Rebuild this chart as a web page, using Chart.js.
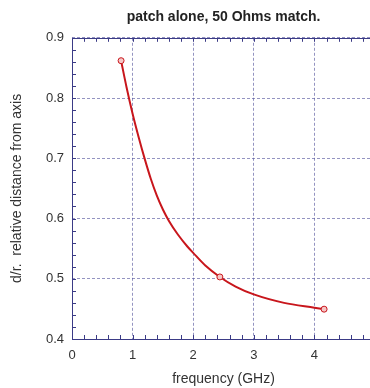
<!DOCTYPE html>
<html>
<head>
<meta charset="utf-8">
<script src="https://cdn.jsdelivr.net/npm/chart.js@4.4.0/dist/chart.umd.min.js"></script>
<style>
    html, body { margin: 0; padding: 0; background: #fff; overflow: hidden; }
    #wrap { width: 384px; height: 388px; }
</style>
</head>
<body>
<div id="wrap"><canvas id="myChart" width="384" height="388"></canvas></div>
<script>
// fitted curve, d/r against frequency
const curveFreq = [0.81, 0.9, 1.0, 1.1, 1.2, 1.3, 1.4, 1.5, 1.6, 1.75, 1.9, 2.0, 2.2, 2.44, 2.7, 3.0, 3.5, 4.0, 4.16];
const curveDr = [0.862, 0.818, 0.774, 0.735, 0.699, 0.666, 0.638, 0.615, 0.596, 0.573, 0.554, 0.543, 0.522, 0.503, 0.487, 0.474, 0.460, 0.452, 0.4495];

// measured points
const pointFreq = [0.81, 2.44, 4.16];
const pointDr = [0.862, 0.503, 0.4495];

// axis tick labels
const xTickLabels = ['0', '1', '2', '3', '4', ''];
const yTickLabels = ['0.4', '0.5', '0.6', '0.7', '0.8', '0.9'];

const xMinorStep = 0.2;
const yMinorStep = 0.02;

const frameColor = '#3b3b86';
const gridColor = 'rgba(90, 90, 160, 0.65)';
const fontFamily = '"Liberation Sans", Arial, sans-serif';

function toXY(xs, ys) {
    return xs.map(function (x, i) { return { x: x, y: ys[i] }; });
}

// frame round the plot with small ticks pointing inward
const framePlugin = {
    id: 'frame',
    afterDatasetsDraw: function (chart) {
        const ctx = chart.ctx;
        const a = chart.chartArea;
        const xs = chart.scales.x;
        const ys = chart.scales.y;
        ctx.save();
        ctx.strokeStyle = frameColor;
        ctx.lineWidth = 1;
        ctx.beginPath();
        for (let v = xs.min; v <= xs.max + 1e-9; v += xMinorStep) {
            const px = Math.round(xs.getPixelForValue(v)) + 0.5;
            ctx.moveTo(px, a.bottom);
            ctx.lineTo(px, a.bottom - 4);
            ctx.moveTo(px, a.top);
            ctx.lineTo(px, a.top + 4);
        }
        for (let v = ys.min; v <= ys.max + 1e-9; v += yMinorStep) {
            const py = Math.round(ys.getPixelForValue(v)) + 0.5;
            ctx.moveTo(a.left, py);
            ctx.lineTo(a.left + 4, py);
            ctx.moveTo(a.right, py);
            ctx.lineTo(a.right - 4, py);
        }
        ctx.stroke();
        ctx.strokeRect(Math.round(a.left) + 0.5, Math.round(a.top) + 0.5,
            Math.round(a.right - a.left), Math.round(a.bottom - a.top));
        ctx.restore();
    }
};

let myChart;
function chart() {
    const ctx = document.getElementById('myChart');
    if (myChart) {
        myChart.destroy();
    }
    myChart = new Chart(ctx, {
        type: 'scatter',
        data: {
            datasets: [{
                label: 'fit',
                data: toXY(curveFreq, curveDr),
                showLine: true,
                borderColor: '#c8161c',
                borderWidth: 2,
                pointRadius: 0,
                cubicInterpolationMode: 'monotone',
                order: 2
            }, {
                label: 'points',
                data: toXY(pointFreq, pointDr),
                showLine: false,
                pointRadius: 3,
                pointBorderWidth: 1,
                pointBorderColor: '#c8161c',
                pointBackgroundColor: '#f6c6c6',
                order: 1
            }]
        },
        options: {
            responsive: false,
            animation: false,
            layout: { padding: { left: 0, right: 0, top: 0, bottom: 0 } },
            plugins: {
                legend: { display: false },
                tooltip: { enabled: false },
                title: {
                    display: true,
                    fullSize: false,
                    text: 'patch alone, 50 Ohms match.',
                    color: '#222',
                    font: { family: fontFamily, size: 14, weight: 'bold' },
                    padding: { top: 9, bottom: 12 }
                }
            },
            scales: {
                x: {
                    type: 'linear',
                    min: 0,
                    max: 5,
                    ticks: {
                        stepSize: 1,
                        color: '#333',
                        font: { family: fontFamily, size: 13 },
                        padding: 9,
                        callback: function (v, i) { return xTickLabels[i]; }
                    },
                    grid: {
                        color: gridColor,
                        tickLength: 0,
                        drawTicks: false
                    },
                    border: { display: false, dash: [3, 2] },
                    title: {
                        display: true,
                        text: 'frequency (GHz)',
                        color: '#333',
                        font: { family: fontFamily, size: 14 },
                        padding: { top: 2, bottom: 0 }
                    },
                    afterFit: function (scale) { scale.height = 49; }
                },
                y: {
                    type: 'linear',
                    min: 0.4,
                    max: 0.9,
                    ticks: {
                        stepSize: 0.1,
                        color: '#333',
                        font: { family: fontFamily, size: 13 },
                        padding: 8,
                        callback: function (v, i) { return yTickLabels[i]; }
                    },
                    grid: {
                        color: gridColor,
                        tickLength: 0,
                        drawTicks: false
                    },
                    border: { display: false, dash: [3, 2] },
                    title: {
                        display: true,
                        text: 'd/r.  relative distance from axis',
                        color: '#333',
                        font: { family: fontFamily, size: 14 },
                        padding: { top: 9, bottom: 0 }
                    },
                    afterFit: function (scale) { scale.width = 72; }
                }
            }
        },
        plugins: [framePlugin]
    });
}

chart();
</script>
</body>
</html>
